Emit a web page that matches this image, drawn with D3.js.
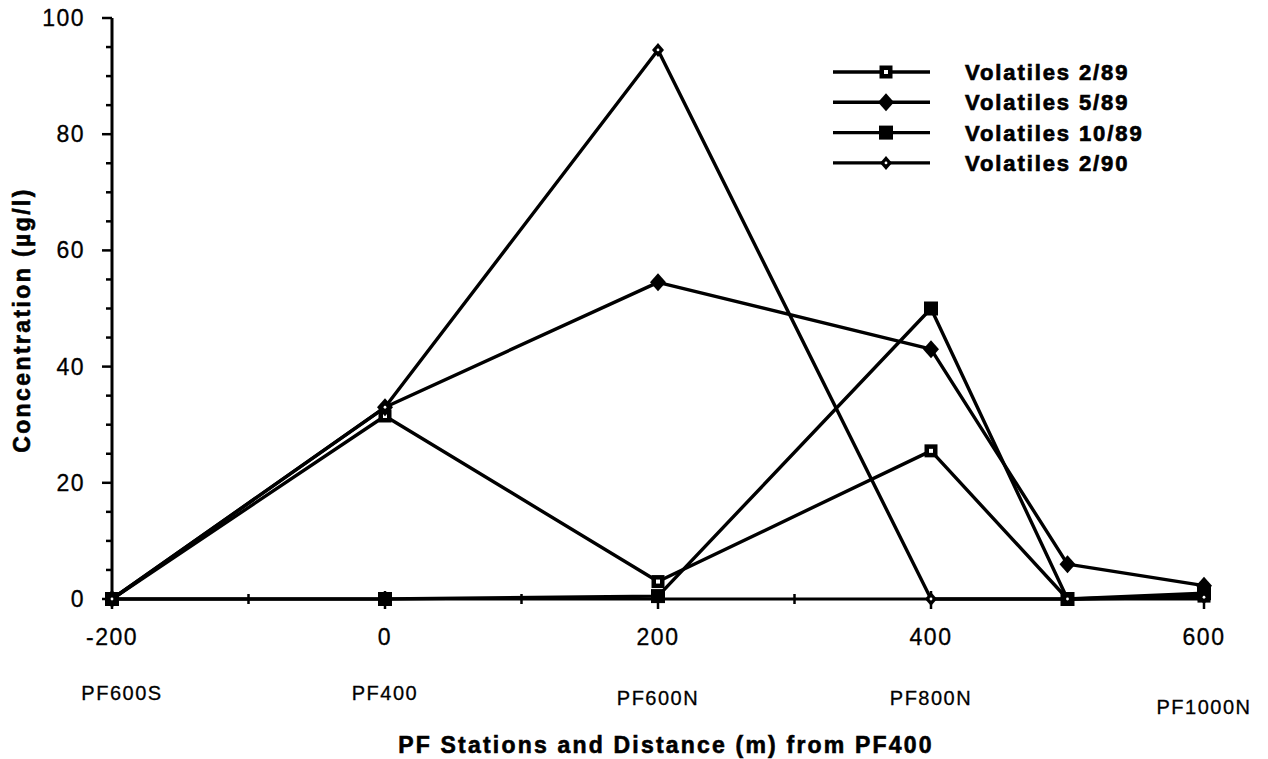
<!DOCTYPE html>
<html><head><meta charset="utf-8">
<script src="https://cdn.jsdelivr.net/npm/d3@7"></script>
<style>body{margin:0;background:#fff}svg{display:block}text{font-family:"Liberation Sans",Arial,Helvetica,sans-serif;fill:#000}</style>
</head><body><svg id="c" width="1268" height="759"></svg>
<script>
const distances = [-200, 0, 200, 400, 500, 600];
const stationLabels = ["PF600S", "PF400", "PF600N", "PF800N", "PF1000N"];
const stationPos = [-200, 0, 200, 400, 600];
const seriesNames = ["Volatiles 2/89", "Volatiles 5/89", "Volatiles 10/89", "Volatiles 2/90"];
const vol289 = [0, 31.5, 3, 25.5, 0, 0.5];
const vol589 = [0, 33, 54.5, 43, 6, 2.3];
const vol1089 = [0, 0, 0.5, 50, 0, 1];
const vol290 = [0, 33, 94.5, 0, 0, 0.3];
const xTicks = [-200, 0, 200, 400, 600];
const yTicks = [0, 20, 40, 60, 80, 100];

const svg = d3.select("#c");
const x = d3.scaleLinear().domain([-200, 600]).range([112, 1204]);
const y = d3.scaleLinear().domain([0, 100]).range([599, 18]);

// axes
const yAxis = svg.append("g").attr("transform", `translate(${x(-200)},0)`);
yAxis.append("line").attr("y1", y(0)).attr("y2", y(100)).attr("stroke", "#000").attr("stroke-width", 3);
d3.range(0, 101, 5).forEach(v => {
  const major = v % 20 === 0;
  yAxis.append("line").attr("x1", major ? -10 : -6).attr("x2", 0)
    .attr("y1", y(v)).attr("y2", y(v)).attr("stroke", "#000").attr("stroke-width", 2.5);
});
yAxis.selectAll("text.yt").data(yTicks).join("text").attr("class", "yt")
  .attr("x", -27).attr("y", d => y(d) + 8).attr("text-anchor", "end")
  .style("font-size", "23px").style("letter-spacing", "1.5px")
  .style("stroke", "#000").style("stroke-width", "0.3px").text(d => d);

const xAxis = svg.append("g");
xAxis.append("line").attr("x1", x(-200)).attr("x2", x(600)).attr("y1", y(0)).attr("y2", y(0))
  .attr("stroke", "#000").attr("stroke-width", 3);
d3.range(-200, 601, 100).forEach(v => {
  const major = v % 200 === 0;
  xAxis.append("line").attr("x1", x(v)).attr("x2", x(v))
    .attr("y1", y(0) - (major ? 8 : 5)).attr("y2", y(0) + (major ? 10 : 5))
    .attr("stroke", "#000").attr("stroke-width", 2.5);
});
xAxis.selectAll("text.xt").data(xTicks).join("text").attr("class", "xt")
  .attr("x", d => x(d)).attr("y", 645).attr("text-anchor", "middle")
  .style("font-size", "23px").style("letter-spacing", "1.5px")
  .style("stroke", "#000").style("stroke-width", "0.3px").text(d => d);

const stationDy = [0, 0, 5, 5, 14];
svg.selectAll("text.st").data(stationLabels).join("text").attr("class", "st")
  .attr("x", (d, i) => x(stationPos[i]) + (i === 0 ? 10 : 0))
  .attr("y", (d, i) => 700 + stationDy[i]).attr("text-anchor", "middle")
  .style("font-size", "20px").style("letter-spacing", "1.5px")
  .style("stroke", "#000").style("stroke-width", "0.3px").text(d => d);

svg.append("text").attr("x", 666).attr("y", 753).attr("text-anchor", "middle")
  .style("font-size", "23px").style("font-weight", "bold").style("letter-spacing", "2.2px")
  .style("stroke", "#000").style("stroke-width", "0.6px")
  .text("PF Stations and Distance (m) from PF400");
svg.append("text").attr("transform", "translate(30,320) rotate(-90)").attr("text-anchor", "middle")
  .style("font-size", "23px").style("font-weight", "bold").style("letter-spacing", "2.4px")
  .style("stroke", "#000").style("stroke-width", "0.6px")
  .text("Concentration (µg/l)");

// series
const allSeries = [vol289, vol589, vol1089, vol290];
const markers = ["openSquare", "diamond", "square", "openDiamond"];
const line = d3.line().x((d, i) => x(distances[i])).y(d => y(d));

function drawMarker(g, type, cx, cy) {
  if (type === "openSquare") {
    g.append("rect").attr("x", cx - 6.5).attr("y", cy - 6.5).attr("width", 13).attr("height", 13).attr("fill", "#000");
    g.append("rect").attr("x", cx - 2).attr("y", cy - 2).attr("width", 4).attr("height", 4).attr("fill", "#fff");
  } else if (type === "diamond") {
    g.append("path").attr("d", `M${cx},${cy - 9}L${cx + 8},${cy}L${cx},${cy + 9}L${cx - 8},${cy}Z`).attr("fill", "#000");
  } else if (type === "square") {
    g.append("rect").attr("x", cx - 7).attr("y", cy - 7).attr("width", 14).attr("height", 14).attr("fill", "#000");
  } else {
    g.append("path").attr("d", `M${cx},${cy - 7}L${cx + 6},${cy}L${cx},${cy + 7}L${cx - 6},${cy}Z`).attr("fill", "#000");
    g.append("circle").attr("cx", cx).attr("cy", cy).attr("r", 1.4).attr("fill", "#fff");
  }
}

allSeries.forEach((vals, si) => {
  const g = svg.append("g");
  g.append("path").datum(vals).attr("d", line).attr("fill", "none")
    .attr("stroke", "#000").attr("stroke-width", 3.4).attr("stroke-linejoin", "round");
  vals.forEach((v, i) => drawMarker(g, markers[si], x(distances[i]), y(v)));
});

// legend
const lg = svg.append("g");
seriesNames.forEach((name, i) => {
  const ly = 72 + i * 30.3;
  lg.append("line").attr("x1", 833).attr("x2", 930).attr("y1", ly).attr("y2", ly)
    .attr("stroke", "#000").attr("stroke-width", 3.4);
  drawMarker(lg, markers[i], 886, ly);
  lg.append("text").attr("x", 965).attr("y", ly + 8)
    .style("font-size", "22px").style("font-weight", "bold").style("letter-spacing", "1.9px")
    .style("stroke", "#000").style("stroke-width", "0.7px").text(name);
});
</script></body></html>
